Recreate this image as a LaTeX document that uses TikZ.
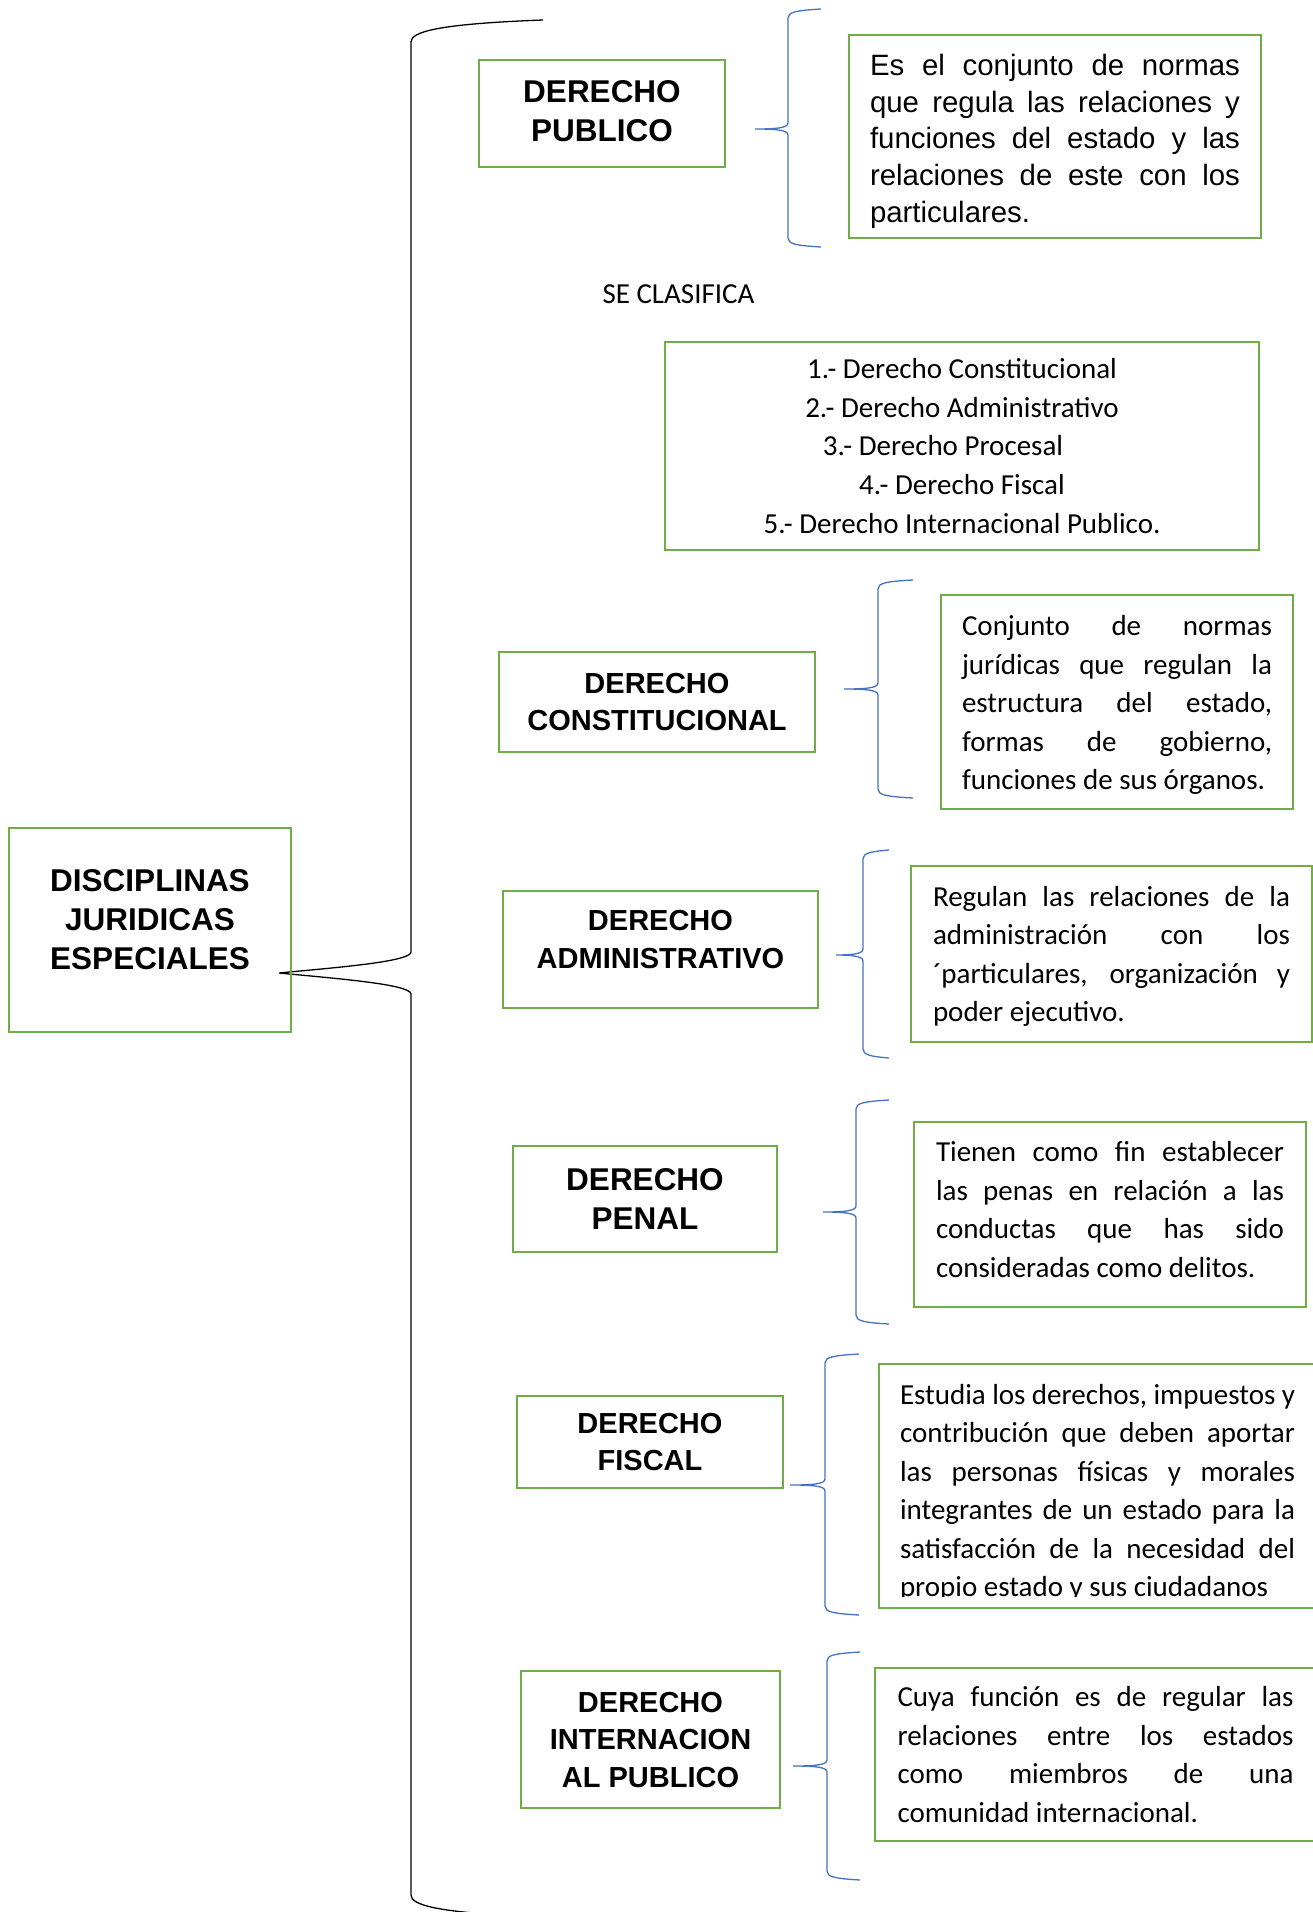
\documentclass[tikz,border=0pt]{standalone}
\usepackage{fontspec}
\newfontfamily\arial{Liberation Sans}
\newfontfamily\calibri{Carlito}
\definecolor{verde}{HTML}{70AD47}
\definecolor{azul}{HTML}{4472C4}
\hbadness=10000

% llave azul: x recta, x punta, x extremos, y arriba, y punta, y abajo
\newcommand{\llave}[6]{%
  \draw[azul, line width=1.3pt] (#3,#4) .. controls (#1+8,#4+1.5) and (#1,#4+3) .. (#1,#4+9)
    -- (#1,#5-6) .. controls (#1,#5-1) and (#1-12,#5) .. (#2,#5)
    .. controls (#1-12,#5) and (#1,#5+1) .. (#1,#5+6)
    -- (#1,#6-9) .. controls (#1,#6-3) and (#1+8,#6-1.5) .. (#3,#6);}

\begin{document}
\begin{tikzpicture}[
        x=1pt, y=-1pt, % coordenadas en pixeles, y hacia abajo
        titulo/.style={draw=verde, line width=2.5pt, align=center, inner sep=0pt, outer sep=0pt,
            font=\arial\bfseries\fontsize{29}{37.5}\selectfont},
        grande/.style={font=\arial\bfseries\fontsize{31.5}{39}\selectfont},
        texto/.style={draw=verde, line width=2.5pt, align=justify, inner xsep=21pt, inner ysep=0pt, outer sep=0pt,
            font=\calibri\fontsize{29}{38.5}\selectfont}, % cuadros de definicion
        llavenegra/.style={black, line width=1.3pt},
    ]
    \useasboundingbox (0,0) rectangle (1313,1912);

    % llave principal
    \coordinate (punta) at (279,973);
    \draw[llavenegra] (543,20) .. controls (436,24) and (411,32) .. (411,42) -- (411,952)
        .. controls (411,962) and (330,968) .. (punta)
        .. controls (330,978) and (411,984) .. (411,994) -- (411,1895)
        .. controls (411,1905) and (436,1913) .. (543,1917);

    \node[titulo, grande, minimum width=282, minimum height=204] (disc) at (150,930) {DISCIPLINAS\\JURIDICAS\\ESPECIALES\\[-17pt]\mbox{}};

    % derecho publico
    \node[titulo, grande, minimum width=246, minimum height=107] (pub) at (602,113.5) {DERECHO\\PUBLICO\\[-33pt]\mbox{}};
    \llave{788}{755}{821}{9}{129}{247}
    \node[texto, font=\arial\fontsize{29.4}{36.7}\selectfont, text width=370, minimum width=412, minimum height=203] (pubdef) at (1055,136.5)
        {\rule{0pt}{31pt}Es el conjunto de normas\linebreak que regula las relaciones y\linebreak funciones del estado y las\linebreak relaciones de este con los\linebreak particulares.};

    \node[font=\calibri\fontsize{29}{35}\selectfont] (clasif) at (678.5,294) {SE CLASIFICA};
    \node[titulo, font=\calibri\fontsize{29}{38.7}\selectfont, minimum width=594, minimum height=208] (lista) at (962,446)
        {1.- Derecho Constitucional\\2.- Derecho Administrativo\\3.- Derecho Procesal\hspace*{38pt}\mbox{}\\4.- Derecho Fiscal\\5.- Derecho Internacional Publico.};

    % derecho constitucional
    \node[titulo, minimum width=316, minimum height=100] (con) at (657,702) {DERECHO\\CONSTITUCIONAL};
    \llave{878}{844}{913}{580}{689}{798}
    \node[texto, text width=310, minimum width=352, minimum height=214] (condef) at (1117,702)
        {\rule{0pt}{26pt}Conjunto de normas\linebreak jurídicas que regulan la\linebreak estructura del estado,\linebreak formas de gobierno,\linebreak funciones de sus órganos.};

    % derecho administrativo
    \node[titulo, minimum width=315, minimum height=117] (adm) at (660.5,949.5) {DERECHO\\ADMINISTRATIVO\\[-17.5pt]\mbox{}};
    \llave{863}{836}{889}{850}{955}{1058}
    \node[texto, text width=357, minimum width=401, minimum height=176] (admdef) at (1111.5,954)
        {\rule{0pt}{25pt}Regulan las relaciones de la\linebreak administración con los\linebreak ´particulares, organización y\linebreak poder ejecutivo.};

    % derecho penal
    \node[titulo, grande, minimum width=264, minimum height=106] (pen) at (645,1199) {DERECHO\\PENAL};
    \llave{856}{823}{889}{1100}{1212}{1324}
    \node[texto, text width=348, minimum width=392, minimum height=185] (pendef) at (1110,1214.5)
        {Tienen como fin establecer\linebreak las penas en relación a las\linebreak conductas que has sido\linebreak consideradas como delitos.\rule[-10pt]{0pt}{10pt}};

    % derecho fiscal
    \node[titulo, minimum width=266, minimum height=92] (fis) at (650,1442) {DERECHO\\FISCAL};
    \llave{825}{790}{859}{1354}{1485}{1615}
    \begin{scope}
        \clip (0,0) rectangle (1313,1596);
        \node[texto, draw=none, text width=395, minimum width=437, minimum height=244] (fisdef) at (1097.5,1486)
            {\rule{0pt}{34pt}Estudia los derechos, impuestos y\linebreak contribución que deben aportar\linebreak las personas físicas y morales\linebreak integrantes de un estado para la\linebreak satisfacción de la necesidad del\linebreak propio estado y sus ciudadanos};
    \end{scope}
    \draw[verde, line width=2.5pt] (fisdef.north west) rectangle (fisdef.south east);

    % derecho internacional publico
    \node[titulo, minimum width=259, minimum height=137] (int) at (650.5,1739.5) {DERECHO\\INTERNACION\\AL PUBLICO};
    \llave{827}{793}{860}{1652}{1766}{1880}
    \node[texto, text width=396, minimum width=441, minimum height=173] (intdef) at (1095.5,1754.5)
        {Cuya función es de regular las\linebreak relaciones entre los estados\linebreak como miembros de una\linebreak comunidad internacional.};
\end{tikzpicture}
\end{document}
